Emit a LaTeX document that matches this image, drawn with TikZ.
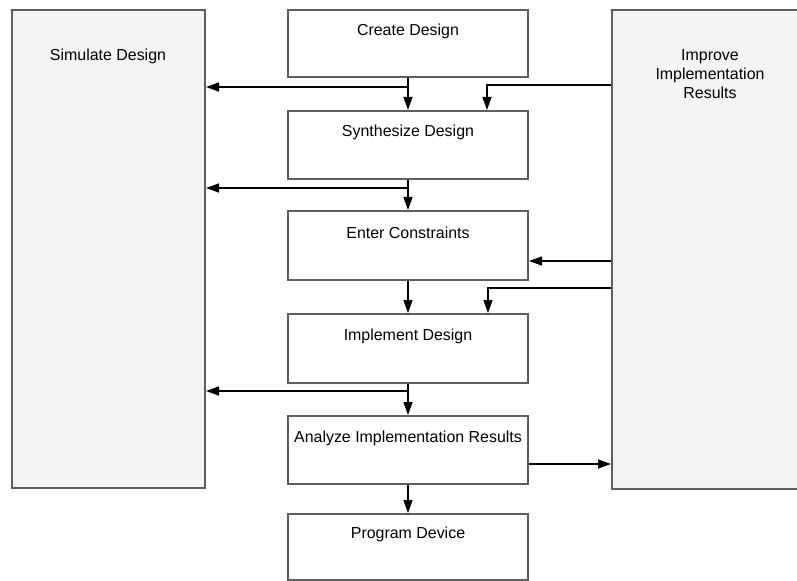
\documentclass[tikz,border=0pt]{standalone}
\usepackage{fontspec}
\setmainfont{Liberation Sans}
\usetikzlibrary{arrows.meta}
\definecolor{boxline}{HTML}{5E5E5E}
\definecolor{panel}{HTML}{F2F3F5}
\begin{document}
\begin{tikzpicture}[x=1bp,y=-1bp,
  stage/.style={draw=boxline, line width=2bp, fill=white, inner sep=0pt,
    minimum width=240bp, minimum height=68bp, anchor=north west},
  sidebox/.style={draw=boxline, line width=2bp, fill=panel, inner sep=0pt,
    anchor=north west},
  lbl/.style={font=\fontsize{16}{19}\selectfont, inner sep=0pt, anchor=base},
  flow/.style={draw=black, line width=1.4bp,
    -{Triangle[length=13bp,width=9bp]}}]
\useasboundingbox (0,0) rectangle (797,581);
\clip (0,0) rectangle (797,581);

% side panels
\node[sidebox, minimum width=193bp, minimum height=478bp] (sim) at (11,9) {};
\node[sidebox, minimum width=210bp, minimum height=479bp] (imp) at (611,9) {};
\node[lbl] (simtxt) at (108,61) {Simulate Design};
\node[lbl] (imptxt1) at (710,61) {Improve};
\node[lbl] (imptxt2) at (710,80) {Implementation};
\node[lbl] (imptxt3) at (710,99) {Results};

% main flow stages
\node[stage, minimum height=67bp] (create) at (287,9) {};
\node[stage] (synth) at (287,110) {};
\node[stage, minimum height=69bp] (enter) at (287,210) {};
\node[stage, minimum height=69bp] (impl) at (287,313) {};
\node[stage] (analyze) at (287,415) {};
\node[stage, minimum height=66bp] (prog) at (287,513) {};

\node[lbl] (createtxt) at ([yshift=-27bp]create.north) {Create Design};
\node[lbl] (synthtxt) at ([yshift=-27bp]synth.north) {Synthesize Design};
\node[lbl] (entertxt) at ([yshift=-28bp]enter.north) {Enter Constraints};
\node[lbl] (impltxt) at ([yshift=-27bp]impl.north) {Implement Design};
\node[lbl] (analyzetxt) at ([yshift=-27bp]analyze.north) {Analyze Implementation Results};
\node[lbl] (progtxt) at ([yshift=-25bp]prog.north) {Program Device};

% downward flow
\draw[flow] (create.south) -- (synth.north);
\draw[flow] (synth.south) -- (enter.north);
\draw[flow] (enter.south) -- (impl.north);
\draw[flow] (impl.south) -- (analyze.north);
\draw[flow] (analyze.south) -- (prog.north);

% branches to simulation
\draw[flow] (create.south |- 0,87) -- (sim.east |- 0,87);
\draw[flow] (synth.south |- 0,188) -- (sim.east |- 0,188);
\draw[flow] (impl.south |- 0,391) -- (sim.east |- 0,391);

% feedback from improvement panel
\draw[flow] (imp.west |- 0,85) -| ([xshift=79bp]synth.north);
\draw[flow] (imp.west |- 0,261) -- (enter.east |- 0,261);
\draw[flow] (imp.west |- 0,288) -| ([xshift=80bp]impl.north);
\draw[flow] (analyze.east |- 0,464) -- (imp.west |- 0,464);
\end{tikzpicture}
\end{document}
